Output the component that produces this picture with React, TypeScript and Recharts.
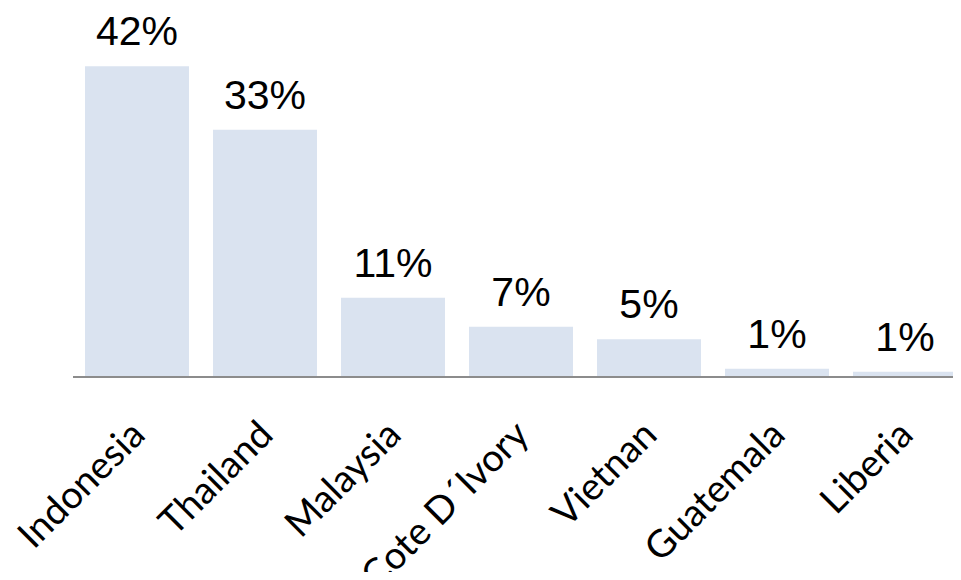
import React from "react";
import { BarChart, Bar, XAxis, YAxis, LabelList } from "recharts";

const countries = ["Indonesia", "Thailand", "Malaysia", "Cote D´Ivory", "Vietnan", "Guatemala", "Liberia"];
const shares = [42, 33.4, 10.7, 6.8, 5.1, 1.1, 0.7];

const data = countries.map((name, i) => ({ name, share: shares[i] }));

const CountryTick = (props: any) => {
	const { x, y, payload } = props;
	const tx = x + 10;
	const ty = y + 52;
	return (
		<text
			x={tx}
			y={ty}
			transform={`rotate(-45, ${tx}, ${ty})`}
			textAnchor="end"
			fill="#000"
			fontSize={38}
			fontFamily="Lato, 'Open Sans', sans-serif"
		>
			{payload.value}
		</text>
	);
};

export const App = () => {
	return (
		<div style={{ margin: -8, width: 980, height: 580, background: "#fff" }}>
			<BarChart
				width={980}
				height={580}
				data={data}
				margin={{ top: 44, right: 11, left: 73, bottom: 0 }}
				barCategoryGap={12}
			>
				<YAxis hide domain={[0, 45]} />
				<XAxis
					dataKey="name"
					height={203}
					interval={0}
					tickLine={false}
					axisLine={{ stroke: "#8c8c8c", strokeWidth: 2 }}
					tick={<CountryTick />}
				/>
				<Bar dataKey="share" fill="#dae3f0" isAnimationActive={false}>
					<LabelList
						dataKey="share"
						position="top"
						offset={21}
						formatter={(v: any) => `${Math.round(v)}%`}
						fill="#000"
						fontSize={41}
						fontFamily="'Liberation Sans', Arial, sans-serif"
					/>
				</Bar>
			</BarChart>
		</div>
	);
};

export default App;
